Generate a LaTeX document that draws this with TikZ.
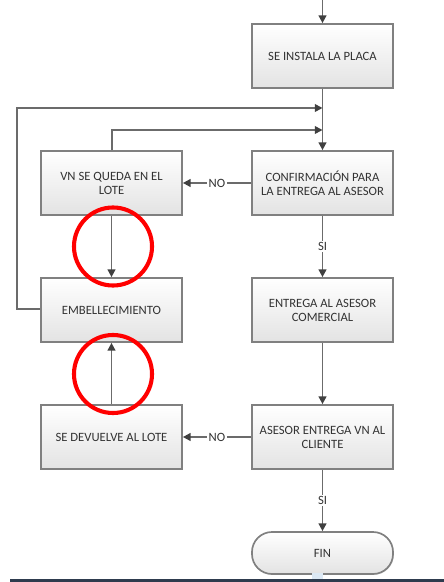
\documentclass[tikz,border=0pt]{standalone}
\usepackage{fontspec}
\setmainfont{Carlito}
\usetikzlibrary{arrows.meta,shadows}
\definecolor{barra}{HTML}{2E3B4E}
\definecolor{tapa}{HTML}{DCE9F5}

\begin{document}
\begin{tikzpicture}[x=0.025cm, y=-0.025cm,
        font=\fontsize{9}{10}\selectfont,
        line width=1.2pt,
        >={Triangle[length=5.5pt, width=5.5pt, color=black!75]},
        paso/.style={draw=black!50, top color=white, bottom color=black!11,
            minimum width=3.525cm, minimum height=1.6cm,
            align=center, text=black!80,
            drop shadow={shadow xshift=0.6pt, shadow yshift=-0.6pt, opacity=0.25}},
        fin/.style={paso, minimum height=1.05cm, rounded corners=0.5cm},
        linea/.style={draw=black!58},
        etiq/.style={fill=white, inner sep=1pt, text=black!80},
        marca/.style={draw=red, line width=2.9pt}]

        % --- Marco de la imagen ---
        \useasboundingbox (0,0) rectangle (444,582);

        % --- Columna derecha ---
        \node[paso] (placa)   at (322.5,56)  {SE INSTALA LA PLACA};
        \node[paso] (confirm) at (322.5,183) {CONFIRMACIÓN PARA\\LA ENTREGA AL ASESOR};
        \node[paso] (entrega) at (322.5,310) {ENTREGA AL ASESOR\\COMERCIAL};
        \node[paso] (asesor)  at (322.5,437) {ASESOR ENTREGA VN AL\\CLIENTE};
        \node[fin]  (final)   at (322.5,553) {FIN};

        % --- Columna izquierda ---
        \node[paso] (lote)     at (111.5,183) {VN SE QUEDA EN EL\\LOTE};
        \node[paso] (embell)   at (111.5,310) {EMBELLECIMIENTO};
        \node[paso] (devuelve) at (111.5,437) {SE DEVUELVE AL LOTE};

        % --- Puntos de union ---
        \coordinate (entrada) at (322.5,0);
        \coordinate (union1) at (322.5,108);
        \coordinate (union2) at (322.5,130);
        \coordinate (esq1) at (17,309);
        \coordinate (esq2) at (17,108);
        \coordinate (esq3) at (112,130);

        % --- Flujo principal ---
        \draw[linea, ->] (entrada) -- (placa.north);
        \draw[linea, ->] (placa.south) -- (confirm.north);
        \draw[linea, ->] (confirm.south) -- node[etiq] {SI} (entrega.north);
        \draw[linea, ->] (entrega.south) -- (asesor.north);
        \draw[linea, ->] (asesor.south) -- node[etiq] {SI} (final.north);

        % --- Respuestas NO ---
        \draw[linea, ->] (confirm.west) -- node[etiq] {NO} (lote.east);
        \draw[linea, ->] (asesor.west) -- node[etiq] {NO} (devuelve.east);

        % --- Retornos ---
        \draw[linea, ->] (lote.south) -- (embell.north);
        \draw[linea, ->] (devuelve.north) -- (embell.south);
        \draw[linea, ->] (embell.west |- esq1) -- (esq1) -- (esq2) -- (union1);
        \draw[linea, ->] (lote.north -| esq3) -- (esq3) -- (union2);

        % --- Marcas rojas ---
        \draw[marca] (113,246.5) circle (0.975cm);
        \draw[marca] (113,374) circle (0.975cm);

        % --- Borde inferior ---
        \fill[tapa] (312,573) rectangle (323,582);
        \fill[barra] (10,578.5) rectangle (444,582);

\end{tikzpicture}
\end{document}
